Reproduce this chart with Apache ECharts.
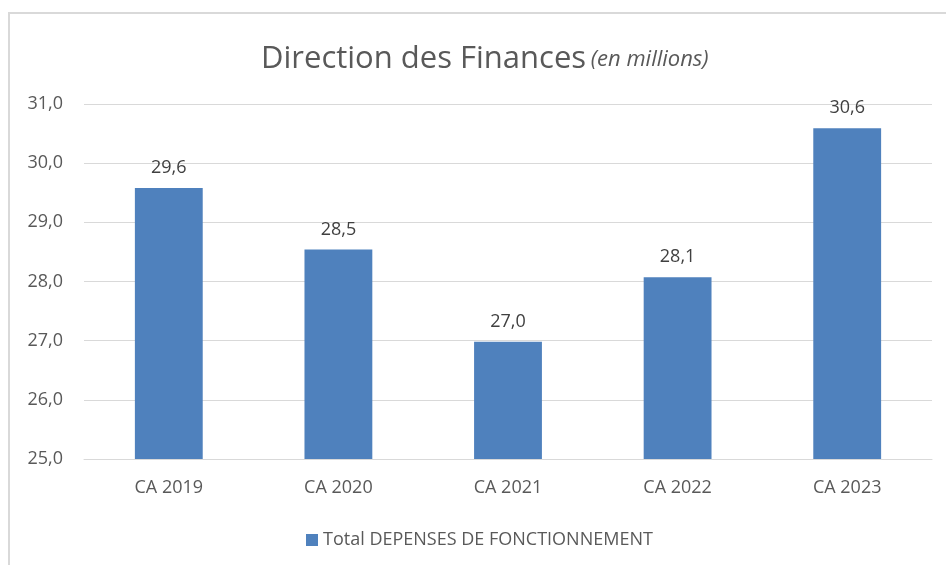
<!DOCTYPE html>
<html>
<head>
<meta charset="utf-8">
<script src="https://cdn.jsdelivr.net/npm/echarts@6/dist/echarts.min.js"></script>
<style>
  html, body { margin: 0; padding: 0; background: #fff; }
  #main { width: 946px; height: 565px; }
</style>
</head>
<body>
<div id="main"></div>
<script>
// valeurs (en millions)
const categories = ['CA 2019', 'CA 2020', 'CA 2021', 'CA 2022', 'CA 2023']
const depenses = [29.58, 28.54, 26.98, 28.07, 30.59]
const seriesName = 'Total DEPENSES DE FONCTIONNEMENT'

const fontFamily = '"Open Sans", Lato, sans-serif'
const fmt = v => Number(v).toFixed(1).replace('.', ',')

const chart = echarts.init(document.getElementById('main'))
const option = {
  animation: false,
  textStyle: { fontFamily: fontFamily },
  graphic: [
    {
      type: 'polyline',
      shape: { points: [[9, 565], [9, 13], [946, 13]] },
      style: { stroke: '#d9d9d9', lineWidth: 2, fill: null },
      silent: true
    }
  ],
  title: {
    left: 256,
    top: 39,
    text: '{a|Direction des Finances} {b|(en millions)}',
    textStyle: {
      fontWeight: 'normal',
      rich: {
        a: { fontSize: 31, color: '#595959', fontWeight: 'normal', fontFamily: fontFamily },
        b: { fontSize: 22, color: '#595959', fontWeight: 'normal', fontStyle: 'italic', fontFamily: fontFamily }
      }
    }
  },
  legend: {
    left: 301,
    top: 526,
    itemWidth: 12,
    itemHeight: 12,
    itemGap: 8,
    icon: 'rect',
    textStyle: { fontSize: 18, color: '#595959', fontFamily: fontFamily },
    data: [seriesName]
  },
  grid: {
    left: 84,
    right: 14,
    top: 104,
    bottom: 106
  },
  xAxis: {
    type: 'category',
    data: categories,
    axisLine: { lineStyle: { color: '#d9d9d9', width: 1 } },
    axisTick: { show: false },
    axisLabel: { color: '#595959', fontSize: 18, margin: 20 }
  },
  yAxis: {
    type: 'value',
    min: 25,
    max: 31,
    interval: 1,
    axisLine: { show: false },
    axisTick: { show: false },
    splitLine: { lineStyle: { color: '#d9d9d9', width: 1 } },
    axisLabel: { color: '#595959', fontSize: 18, margin: 21, formatter: fmt }
  },
  series: [
    {
      name: seriesName,
      type: 'bar',
      data: depenses,
      barWidth: '40%',
      itemStyle: { color: '#4f81bd' },
      label: {
        show: true,
        position: 'top',
        distance: 11,
        color: '#404040',
        fontSize: 18,
        formatter: p => fmt(p.value)
      }
    }
  ]
}
chart.setOption(option)
</script>
</body>
</html>
